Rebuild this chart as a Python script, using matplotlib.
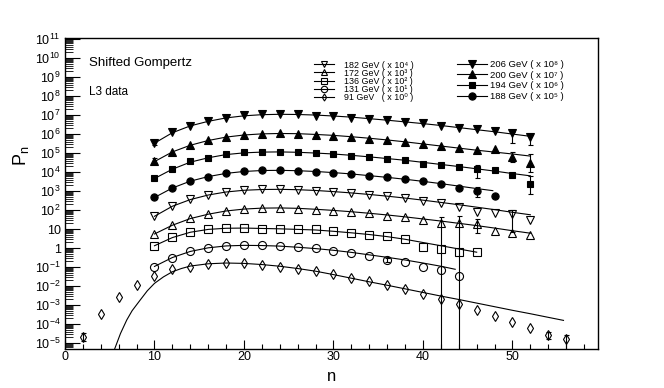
import numpy as np
import matplotlib
matplotlib.use("Agg")
import matplotlib.pyplot as plt
from matplotlib.lines import Line2D
from matplotlib.ticker import FixedLocator, LogLocator, NullFormatter, FuncFormatter, MultipleLocator

plt.rcParams['font.family'] = ['Liberation Sans', 'DejaVu Sans']
plt.rcParams['mathtext.fontset'] = 'custom'
plt.rcParams['mathtext.rm'] = 'Liberation Sans'
plt.rcParams['mathtext.it'] = 'Liberation Sans:italic'

# ---------------- data (log10 of P_n x scale factor, as plotted) ----------------
n91 = list(range(2, 57, 2))
log91 = [-4.67, -3.47, -2.6, -1.96, -1.47, -1.12, -0.98, -0.86, -0.81, -0.81, -0.88, -0.98, -1.09, -1.19,
         -1.37, -1.56, -1.74, -1.96, -2.17, -2.42, -2.68, -2.96, -3.26, -3.56, -3.91, -4.21, -4.56, -4.81]
n131 = list(range(10, 45, 2))
log131 = [-0.98, -0.51, -0.16, 0.0, 0.11, 0.14, 0.14, 0.11, 0.04, -0.02, -0.14, -0.28, -0.42, -0.63, -0.72,
          -0.98, -1.16, -1.47]
n136 = list(range(10, 47, 2))
log136 = [0.11, 0.56, 0.84, 1.0, 1.04, 1.04, 1.02, 1.02, 1.0, 0.98, 0.91, 0.77, 0.68, 0.63, 0.46, 0.07, -0.07,
          -0.21, -0.21]
n172 = list(range(10, 53, 2))
log172 = [0.74, 1.21, 1.56, 1.79, 1.96, 2.07, 2.11, 2.11, 2.07, 2.0, 1.95, 1.88, 1.82, 1.68, 1.61, 1.47, 1.30,
          1.33, 1.26, 0.89, 0.77, 0.68]
n182 = list(range(10, 53, 2))
log182 = [1.68, 2.21, 2.56, 2.79, 2.96, 3.05, 3.09, 3.09, 3.05, 2.98, 2.95, 2.88, 2.81, 2.74, 2.62, 2.49, 2.38,
          2.17, 1.91, 1.86, 1.79, 1.47]
n188 = list(range(10, 49, 2))
log188 = [2.67, 3.17, 3.53, 3.75, 3.93, 4.04, 4.09, 4.09, 4.07, 4.0, 3.95, 3.88, 3.79, 3.72, 3.63, 3.51, 3.37,
          3.17, 3.02, 2.74]
n194 = list(range(10, 53, 2))
log194 = [3.67, 4.17, 4.56, 4.75, 4.95, 5.04, 5.05, 5.05, 5.04, 4.98, 4.95, 4.86, 4.79, 4.70, 4.63, 4.40, 4.35,
          4.28, 4.16, 4.11, 3.84, 3.35]
n200 = list(range(10, 53, 2))
log200 = [4.59, 5.07, 5.42, 5.68, 5.86, 5.97, 6.02, 6.04, 6.02, 5.95, 5.89, 5.83, 5.75, 5.67, 5.58, 5.47, 5.37,
          5.26, 5.14, 5.21, 4.77, 4.49]
n206 = list(range(10, 53, 2))
log206 = [5.54, 6.09, 6.44, 6.68, 6.86, 6.98, 7.05, 7.05, 7.05, 6.97, 6.93, 6.87, 6.81, 6.74, 6.63, 6.56, 6.44,
          6.33, 6.25, 6.16, 6.04, 5.86]

# shifted Gompertz fit curves
fitn91 = [5.4, 6.2, 6.9, 7.5, 8.4, 9.2, 10, 11, 12, 13, 14, 16, 18, 20, 22, 24, 26, 28, 30, 32, 34, 36, 38, 40,
          42, 44, 46, 48, 50, 52, 54, 55.7]
fit91 = [-5.5, -4.5, -3.79, -3.3, -2.74, -2.25, -1.86, -1.52, -1.25, -1.08, -0.95, -0.83, -0.79, -0.81, -0.87,
         -0.96, -1.08, -1.22, -1.40, -1.59, -1.78, -1.96, -2.15, -2.34, -2.53, -2.71, -2.90, -3.09, -3.28, -3.46,
         -3.65, -3.81]
fitn131 = [10, 12, 14, 16, 18, 20, 22, 24, 26, 28, 30, 32, 34, 36, 38, 40, 42, 43.6]
fit131 = [-0.97, -0.5, -0.18, 0.01, 0.11, 0.14, 0.13, 0.1, 0.04, -0.03, -0.12, -0.23, -0.36, -0.49, -0.63, -0.79,
          -0.96, -1.12]
fitn136 = list(range(10, 47, 2))
fit136 = [0.12, 0.55, 0.83, 0.98, 1.04, 1.05, 1.03, 1.01, 0.98, 0.95, 0.88, 0.8, 0.71, 0.6, 0.46, 0.29, 0.12,
          -0.05, -0.22]
fitn172 = list(range(10, 53, 2))
fit172 = [0.74, 1.2, 1.55, 1.78, 1.95, 2.05, 2.1, 2.11, 2.09, 2.04, 1.98, 1.91, 1.83, 1.74, 1.64, 1.53, 1.42, 1.3,
          1.18, 1.05, 0.91, 0.78]
fitn182 = list(range(10, 53, 2))
fit182 = [1.67, 2.2, 2.55, 2.79, 2.95, 3.04, 3.08, 3.09, 3.07, 3.03, 2.97, 2.9, 2.82, 2.73, 2.63, 2.52, 2.4, 2.28,
          2.15, 2.02, 1.88, 1.75]
fitn188 = [10, 12, 14, 16, 18, 20, 22, 24, 26, 28, 30, 32, 34, 36, 38, 40, 42, 44, 46, 47.8]
fit188 = [2.66, 3.16, 3.52, 3.76, 3.93, 4.03, 4.08, 4.09, 4.07, 4.03, 3.97, 3.9, 3.81, 3.72, 3.62, 3.51, 3.39,
          3.26, 3.13, 3.02]
fitn194 = list(range(10, 53, 2))
fit194 = [3.66, 4.15, 4.52, 4.75, 4.92, 5.01, 5.05, 5.06, 5.04, 5.0, 4.95, 4.88, 4.8, 4.71, 4.62, 4.51, 4.4, 4.29,
          4.17, 4.05, 3.92, 3.8]
fitn200 = list(range(10, 53, 2))
fit200 = [4.55, 5.06, 5.41, 5.66, 5.84, 5.95, 6.01, 6.03, 6.02, 5.98, 5.93, 5.86, 5.78, 5.69, 5.59, 5.48, 5.37,
          5.26, 5.15, 5.05, 4.95, 4.84]
fitn206 = list(range(10, 53, 2))
fit206 = [5.52, 6.07, 6.43, 6.67, 6.85, 6.96, 7.02, 7.04, 7.03, 7.0, 6.95, 6.89, 6.81, 6.73, 6.64, 6.55, 6.45,
          6.34, 6.23, 6.12, 6.0, 5.88]

# error bars: n, lower and upper bound (log10, scaled)
ebn91, eblo91, ebhi91 = [2, 54, 56], [-4.9, -4.8, -6.0], [-4.5, -4.42, -4.58]
ebn131, eblo131, ebhi131 = [36], [-0.71], [-0.55]
ebn172, eblo172, ebhi172 = [42, 44, 46], [-6.0, -6.0, 0.77], [1.65, 1.68, 1.51]
ebn182, eblo182, ebhi182 = [50], [0.85], [2.0]
ebn188, eblo188, ebhi188 = [46], [2.7], [3.23]
ebn194, eblo194, ebhi194 = [46, 52], [3.67, 2.84], [4.37, 3.79]
ebn200, eblo200, ebhi200 = [10, 50, 52], [4.45, 4.54, 4.0], [4.72, 5.07, 4.95]
ebn206, eblo206, ebhi206 = [10, 50, 52], [5.4, 5.51, 5.42], [5.66, 6.12, 5.95]

labels = ["182 GeV ( x 10⁴ )", "172 GeV ( x 10³ )", "136 GeV ( x 10² )",
          "131 GeV ( x 10¹ )", "91 GeV   ( x 10⁰ )",
          "206 GeV ( x 10⁸ )", "200 GeV ( x 10⁷ )", "194 GeV ( x 10⁶ )",
          "188 GeV ( x 10⁵ )"]

# ---------------- figure ----------------
fig = plt.figure(figsize=(6.64, 3.88), dpi=100)
W, H = 664, 388
x0, x1, y0, y1 = 65, 597.5, 38.3, 348.7
ax = fig.add_axes([x0 / W, 1 - y1 / H, (x1 - x0) / W, (y1 - y0) / H])
ax.set_yscale('log')
ax.set_xlim(0, 59.5)
ax.set_ylim(5e-6, 1.1e11)

series = [
    # n, log, fitn, fit, ebn, eblo, ebhi, marker, filled, ms
    (n182, log182, fitn182, fit182, ebn182, eblo182, ebhi182, 'v', False, 5.8),
    (n172, log172, fitn172, fit172, ebn172, eblo172, ebhi172, '^', False, 5.8),
    (n136, log136, fitn136, fit136, [], [], [], 's', False, 5.2),
    (n131, log131, fitn131, fit131, ebn131, eblo131, ebhi131, 'o', False, 5.8),
    (n91, log91, fitn91, fit91, ebn91, eblo91, ebhi91, 'd', False, 4.8),
    (n206, log206, fitn206, fit206, ebn206, eblo206, ebhi206, 'v', True, 5.2),
    (n200, log200, fitn200, fit200, ebn200, eblo200, ebhi200, '^', True, 5.2),
    (n194, log194, fitn194, fit194, ebn194, eblo194, ebhi194, 's', True, 5.0),
    (n188, log188, fitn188, fit188, ebn188, eblo188, ebhi188, 'o', True, 5.2),
]

handles = []
for i, (nn, lg, fn, fv, en, elo, ehi, mk, filled, ms) in enumerate(series):
    ax.plot(fn, 10 ** np.array(fv), color='black', lw=0.8, zorder=2)
    if en:
        yv = np.array([10 ** lg[nn.index(k)] for k in en])
        lo = yv - 10 ** np.array(elo)
        hi = 10 ** np.array(ehi) - yv
        ax.errorbar(en, yv, yerr=[lo, hi], fmt='none', ecolor='black', elinewidth=0.8,
                    capsize=1.8, capthick=0.8, zorder=3)
    fc = 'black' if filled else 'none'
    ax.plot(nn, 10 ** np.array(lg), linestyle='none', marker=mk, ms=ms, mfc=fc, mec='black',
            mew=0.8, zorder=4)
    lms = ms - 1.2 if i < 5 else ms
    handles.append(Line2D([], [], color='black', lw=0.8, marker=mk, ms=lms, mfc=fc,
                          mec='black', mew=0.8))

# ---------------- axes styling ----------------
for s in ax.spines.values():
    s.set_linewidth(1.0)
ax.xaxis.set_major_locator(MultipleLocator(10))
ax.xaxis.set_minor_locator(MultipleLocator(2))
ax.yaxis.set_major_locator(FixedLocator([10.0 ** k for k in range(-5, 12)]))
ax.yaxis.set_minor_locator(LogLocator(base=10, subs=np.arange(2, 10), numticks=40))
ax.yaxis.set_minor_formatter(NullFormatter())


def yfmt(v, pos):
    k = int(round(np.log10(v)))
    if k == 0:
        return '1'
    if k == 1:
        return '10'
    return '10$^{%d}$' % k


ax.yaxis.set_major_formatter(FuncFormatter(yfmt))
ax.tick_params(axis='both', which='both', direction='in', top=False, right=False, colors='black')
ax.tick_params(axis='y', which='major', length=11, width=0.8, labelsize=9, pad=3)
ax.tick_params(axis='y', which='minor', length=5.5, width=0.6)
ax.tick_params(axis='x', which='major', length=6.5, width=0.8, labelsize=9, pad=2)
ax.tick_params(axis='x', which='minor', length=3.4, width=0.8)

ax.set_xlabel('n', fontsize=12, va='top')
ax.xaxis.set_label_coords(0.5, -0.066)
ax.set_ylabel(r'$\mathregular{P_n}$', fontsize=13, rotation=90)
ax.yaxis.set_label_coords(-0.063, 0.62)

fig.text(89 / W, 1 - 63 / H, 'Shifted Gompertz', fontsize=9.5, va='center', ha='left')
fig.text(89 / W, 1 - 92 / H, 'L3 data', fontsize=8.5, va='center', ha='left')

leg1 = ax.legend(handles[:5], labels[:5], loc='upper left', bbox_to_anchor=(314 / W, 1 - 60.5 / H),
                 bbox_transform=fig.transFigure, frameon=False, fontsize=6.4, borderpad=0,
                 borderaxespad=0, handlelength=2.3, handletextpad=1.1, labelspacing=-0.1)
ax.add_artist(leg1)
leg2 = ax.legend(handles[5:], labels[5:], loc='upper left', bbox_to_anchor=(457 / W, 1 - 60 / H),
                 bbox_transform=fig.transFigure, frameon=False, fontsize=6.8, borderpad=0,
                 borderaxespad=0, handlelength=3.2, handletextpad=0.3, labelspacing=0.17)

fig.savefig('out.png', dpi=100)
